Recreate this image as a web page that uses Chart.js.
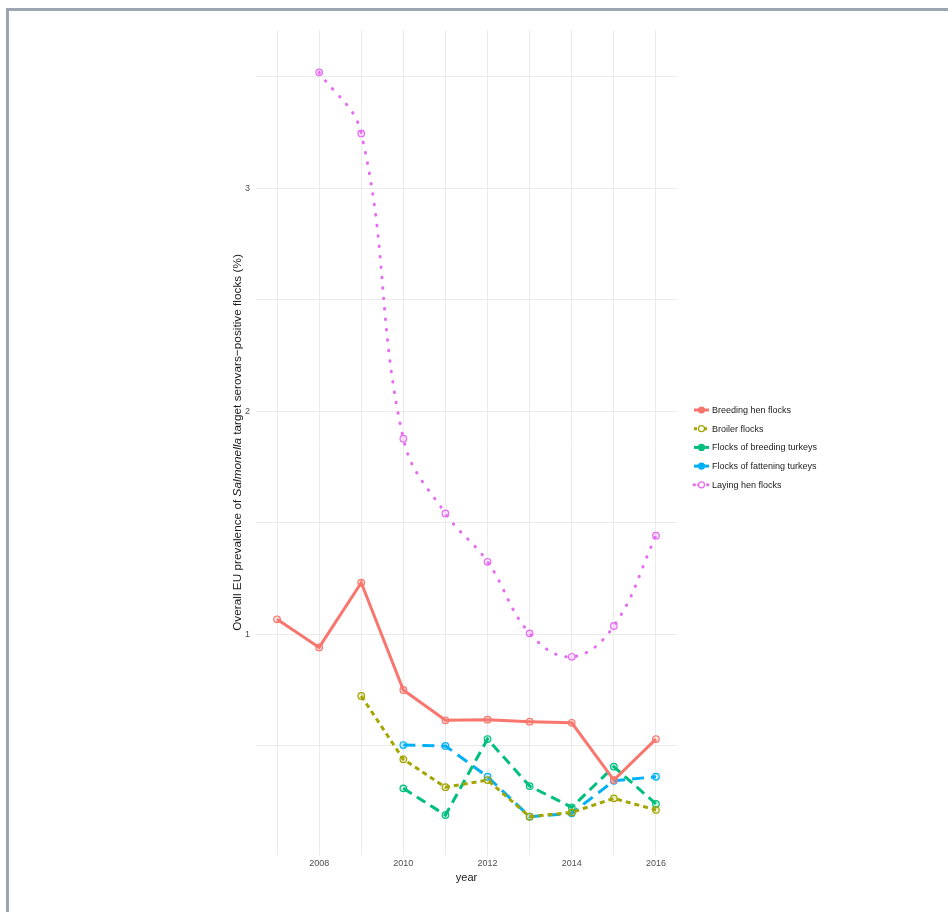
<!DOCTYPE html>
<html>
<head>
<meta charset="utf-8">
<title>Salmonella prevalence</title>
<script src="https://cdn.jsdelivr.net/npm/chart.js@4.4.0/dist/chart.umd.min.js"></script>
<style>
  body { margin: 0; background: #fff; }
  #frame { position: absolute; left: 6px; top: 8px; right: 0; bottom: 0; border-top: 3px solid #9ba6b0; border-left: 3px solid #9ba6b0; }
  #wrap { position: absolute; left: 0; top: 0; width: 948px; height: 912px; }
</style>
</head>
<body>
<div id="frame"></div>
<div id="wrap"><canvas id="myChart" width="948" height="912"></canvas></div>

<script>
// data
const years = [2007, 2008, 2009, 2010, 2011, 2012, 2013, 2014, 2015, 2016];
const breedingHen = [1.066, 0.940, 1.230, 0.749, 0.613, 0.616, 0.607, 0.602, 0.345, 0.529];
const broiler = [null, null, 0.722, 0.438, 0.313, 0.345, 0.181, 0.200, 0.263, 0.211];
const breedingTurkeys = [null, null, null, 0.308, 0.188, 0.529, 0.318, 0.223, 0.405, 0.238];
const fatteningTurkeys = [null, null, null, 0.502, 0.498, 0.360, 0.181, 0.196, 0.342, 0.360];
const layingHen = [null, 3.519, 3.245, 1.876, 1.541, 1.324, 1.003, 0.898, 1.036, 1.441];

const seriesNames = ["Breeding hen flocks", "Broiler flocks", "Flocks of breeding turkeys", "Flocks of fattening turkeys", "Laying hen flocks"];
const seriesColors = ["#F8766D", "#A3A500", "#00BF7D", "#00B0F6", "#E76BF3"];
const seriesDash = [[], [5, 4], [10, 6], [12, 7], [0.5, 10]];
const yTicks = [0.5, 1, 1.5, 2, 2.5, 3, 3.5];

function toPoints(values) {
    let pts = [];
    for (let i = 0; i < years.length; i++) {
        if (values[i] !== null) pts.push({x: years[i], y: values[i]});
    }
    return pts;
}

function hexAlpha(hex, a) {
    let r = parseInt(hex.substr(1, 2), 16), g = parseInt(hex.substr(3, 2), 16), b = parseInt(hex.substr(5, 2), 16);
    return "rgba(" + r + "," + g + "," + b + "," + a + ")";
}

const allSeries = [breedingHen, broiler, breedingTurkeys, fatteningTurkeys, layingHen];
let datasets = [];
for (let i = 0; i < allSeries.length; i++) {
    datasets.push({
        label: seriesNames[i],
        data: toPoints(allSeries[i]),
        borderColor: seriesColors[i],
        backgroundColor: hexAlpha(seriesColors[i], 0.25),
        pointBorderColor: seriesColors[i],
        pointBackgroundColor: hexAlpha(seriesColors[i], 0.2),
        borderWidth: 3,
        borderDash: seriesDash[i],
        borderCapStyle: i == 4 ? "round" : "butt",
        pointRadius: 3.3,
        pointBorderWidth: 1.2,
        fill: false,
        tension: i == 4 ? 0.4 : 0  // laying hen line is smoothed in the original
    });
}

// y axis title with italic word, drawn by hand
const yTitlePlugin = {
    id: "yTitle",
    afterDraw(chart) {
        const ctx = chart.ctx;
        const area = chart.chartArea;
        const parts = [
            ["Overall EU prevalence of ", "11.8px 'Liberation Sans', Arial, sans-serif"],
            ["Salmonella", "italic 11.8px 'Liberation Sans', Arial, sans-serif"],
            [" target serovars\u2212positive flocks (%)", "11.8px 'Liberation Sans', Arial, sans-serif"]
        ];
        let total = 0;
        parts.forEach(p => { ctx.font = p[1]; total += ctx.measureText(p[0]).width; });
        ctx.save();
        ctx.translate(238, (area.top + area.bottom) / 2);
        ctx.rotate(-Math.PI / 2);
        ctx.fillStyle = "#1a1a1a";
        ctx.textBaseline = "middle";
        let x = -total / 2;
        parts.forEach(p => { ctx.font = p[1]; ctx.fillText(p[0], x, 0); x += ctx.measureText(p[0]).width; });
        ctx.restore();
    }
};

// legend like ggplot keys
const legendPlugin = {
    id: "ggLegend",
    afterDraw(chart) {
        const ctx = chart.ctx;
        ctx.save();
        for (let i = 0; i < seriesNames.length; i++) {
            let y = 410 + i * 18.7;
            ctx.strokeStyle = seriesColors[i];
            ctx.lineWidth = 3;
            ctx.lineCap = i == 4 ? "round" : "butt";
            ctx.setLineDash(i == 4 ? [0.5, 4] : (i == 1 ? [3, 2] : []));
            ctx.beginPath();
            ctx.moveTo(694, y);
            ctx.lineTo(709, y);
            ctx.stroke();
            ctx.setLineDash([]);
            ctx.lineWidth = 1.2;
            ctx.fillStyle = i == 1 || i == 4 ? "#fff" : seriesColors[i];
            ctx.beginPath();
            ctx.arc(701.5, y, 3, 0, Math.PI * 2);
            ctx.fill();
            ctx.stroke();
            ctx.fillStyle = "#1a1a1a";
            ctx.font = "9px 'Liberation Sans', Arial, sans-serif";
            ctx.textBaseline = "middle";
            ctx.fillText(seriesNames[i], 712, y + 0.5);
        }
        ctx.restore();
    }
};

const ctx = document.getElementById("myChart");
const myChart = new Chart(ctx, {
    type: "line",
    data: { datasets: datasets },
    plugins: [yTitlePlugin, legendPlugin],
    options: {
        responsive: false,
        devicePixelRatio: 1,
        animation: false,
        layout: { padding: { left: 228, right: 271, top: 30, bottom: 27 } },
        plugins: { legend: { display: false }, tooltip: { enabled: false } },
        scales: {
            x: {
                type: "linear",
                min: 2006.5,
                max: 2016.5,
                afterBuildTicks: (axis) => { axis.ticks = years.map(v => ({value: v})); },
                afterFit: (axis) => { axis.height = 30; },
                border: { display: false },
                grid: { color: "#ebebeb", lineWidth: 1, drawTicks: false },
                ticks: {
                    padding: 3,
                    color: "#4d4d4d",
                    font: { family: "'Liberation Sans', Arial, sans-serif", size: 9 },
                    maxRotation: 0,
                    autoSkip: false,
                    callback: (v) => (v % 2 == 0 ? String(v) : "")
                },
                title: {
                    display: true,
                    text: "year",
                    color: "#1a1a1a",
                    padding: { top: 0, bottom: 0 },
                    font: { family: "'Liberation Sans', Arial, sans-serif", size: 11 }
                }
            },
            y: {
                min: 0.009,
                max: 3.709,
                afterBuildTicks: (axis) => { axis.ticks = yTicks.map(v => ({value: v})); },
                afterFit: (axis) => { axis.width = 28; },
                border: { display: false },
                grid: { color: "#ebebeb", lineWidth: 1, drawTicks: false },
                ticks: {
                    padding: 6,
                    color: "#4d4d4d",
                    font: { family: "'Liberation Sans', Arial, sans-serif", size: 9 },
                    autoSkip: false,
                    callback: (v) => (Number.isInteger(v) ? String(v) : "")
                }
            }
        }
    }
});
</script>
</body>
</html>
